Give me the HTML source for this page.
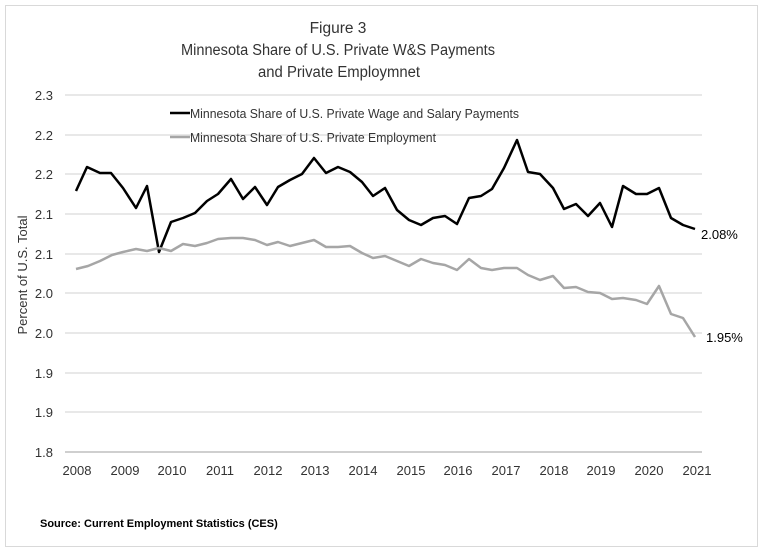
<!DOCTYPE html>
<html><head><style>body{margin:0;background:#fff}</style></head><body>
<svg width="764" height="550" xmlns="http://www.w3.org/2000/svg" font-family="Liberation Sans, sans-serif">
<rect x="0" y="0" width="764" height="550" fill="#fff"/>
<rect x="5.5" y="5.5" width="752" height="541" fill="none" stroke="#d9d9d9"/>
<g stroke="#e0e0e0" stroke-width="1.5">
<line x1="65" x2="702" y1="95" y2="95"/><line x1="65" x2="702" y1="135" y2="135"/><line x1="65" x2="702" y1="174" y2="174"/><line x1="65" x2="702" y1="214" y2="214"/><line x1="65" x2="702" y1="254" y2="254"/><line x1="65" x2="702" y1="293" y2="293"/><line x1="65" x2="702" y1="333" y2="333"/><line x1="65" x2="702" y1="373" y2="373"/><line x1="65" x2="702" y1="412" y2="412"/>
</g>
<line x1="65" x2="702" y1="452" y2="452" stroke="#bfbfbf" stroke-width="1.5"/>
<g font-size="13" fill="#333" text-anchor="end">
<text x="53" y="100">2.3</text><text x="53" y="140">2.2</text><text x="53" y="179">2.2</text><text x="53" y="219">2.1</text><text x="53" y="259">2.1</text><text x="53" y="298">2.0</text><text x="53" y="338">2.0</text><text x="53" y="378">1.9</text><text x="53" y="417">1.9</text><text x="53" y="457">1.8</text>
</g>
<g font-size="13" fill="#333" text-anchor="middle">
<text x="77" y="475">2008</text><text x="125" y="475">2009</text><text x="172" y="475">2010</text><text x="220" y="475">2011</text><text x="268" y="475">2012</text><text x="315" y="475">2013</text><text x="363" y="475">2014</text><text x="411" y="475">2015</text><text x="458" y="475">2016</text><text x="506" y="475">2017</text><text x="554" y="475">2018</text><text x="601" y="475">2019</text><text x="649" y="475">2020</text><text x="697" y="475">2021</text>
</g>
<text transform="translate(27,275) rotate(-90)" font-size="13" fill="#333" text-anchor="middle">Percent of U.S. Total</text>
<text x="338" y="33" font-size="15.5" fill="#333" text-anchor="middle">Figure 3</text>
<text x="181" y="55" font-size="15.5" fill="#333" textLength="314" lengthAdjust="spacingAndGlyphs">Minnesota Share of U.S. Private W&amp;S Payments</text>
<text x="258" y="77" font-size="15.5" fill="#333" textLength="162" lengthAdjust="spacingAndGlyphs">and Private Employmnet</text>
<line x1="170" x2="190" y1="113" y2="113" stroke="#000" stroke-width="2.5"/>
<text x="190" y="118" font-size="13" fill="#333" textLength="329" lengthAdjust="spacingAndGlyphs">Minnesota Share of U.S. Private Wage and Salary Payments</text>
<line x1="170" x2="190" y1="137" y2="137" stroke="#a6a6a6" stroke-width="2.5"/>
<text x="190" y="142" font-size="13" fill="#333" textLength="246" lengthAdjust="spacingAndGlyphs">Minnesota Share of U.S. Private Employment</text>
<polyline fill="none" stroke="#000" stroke-width="2.5" stroke-linejoin="round" points="76,191 87,167 100,173 111,173 123,188 136,208 147,186 159,252 171,222 183,218 195,213 207,201 218,194 231,179 243,199 255,187 267,205 278,187 290,180 302,174 314,158 326,173 338,167 350,172 362,182 373,196 385,188 397,210 409,220 421,225 433,218 445,216 457,224 469,198 481,196 492,189 504,168 517,140 528,172 540,174 553,188 564,209 576,204 588,216 600,203 612,227 623,186 636,194 647,194 659,188 671,218 683,225 695,229"/>
<polyline fill="none" stroke="#a6a6a6" stroke-width="2.5" stroke-linejoin="round" points="76,269 88,266 100,261 112,255 123,252 136,249 147,251 159,248 171,251 183,244 195,246 207,243 218,239 231,238 243,238 255,240 267,245 278,242 290,246 302,243 314,240 326,247 338,247 350,246 362,253 373,258 385,256 397,261 409,266 421,259 433,263 445,265 457,270 469,259 481,268 492,270 504,268 517,268 528,275 540,280 553,276 564,288 576,287 588,292 600,293 612,299 623,298 636,300 647,304 659,286 671,314 683,318 695,337"/>
<text x="701" y="239" font-size="13" fill="#000">2.08%</text>
<text x="706" y="342" font-size="13" fill="#000">1.95%</text>
<text x="40" y="527" font-size="11" font-weight="bold" fill="#000">Source: Current Employment Statistics (CES)</text>
</svg>
</body></html>
